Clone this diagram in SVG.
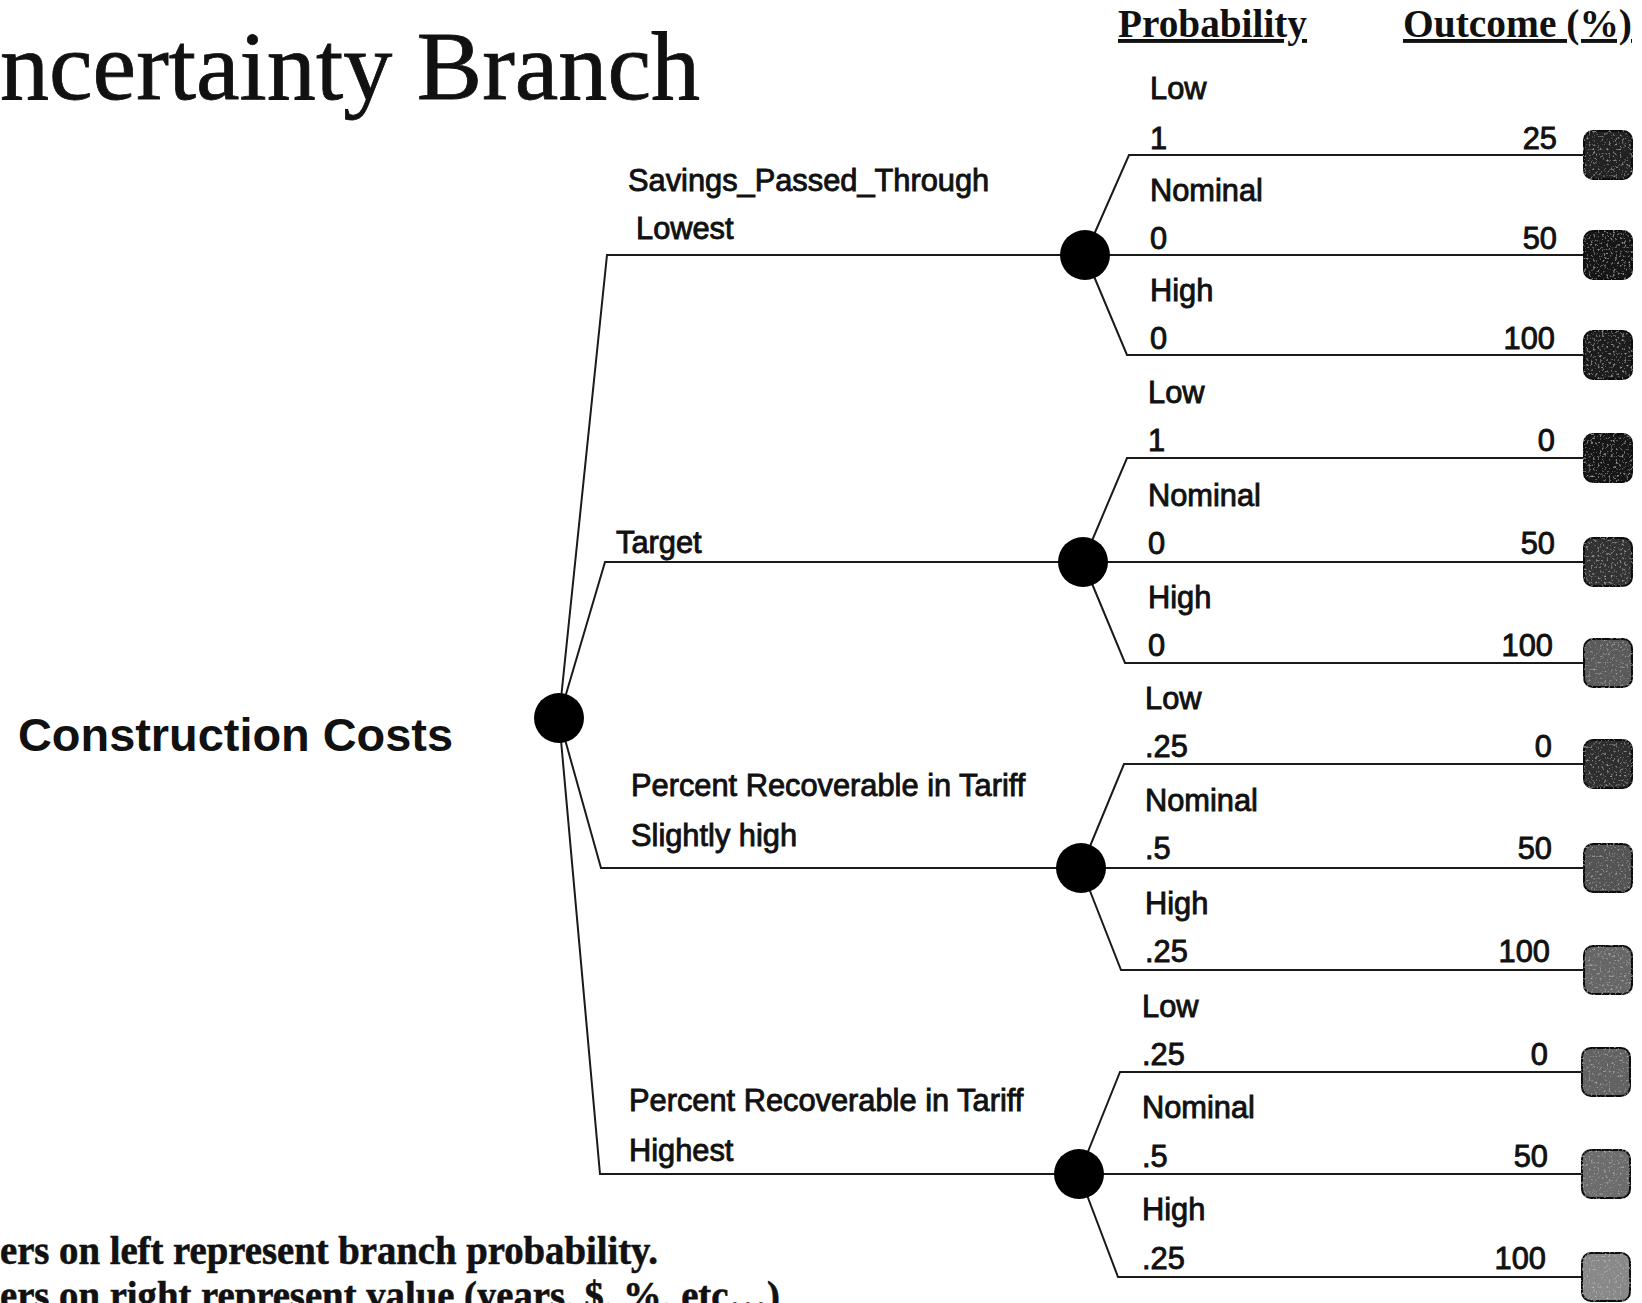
<svg xmlns="http://www.w3.org/2000/svg" width="1642" height="1303" viewBox="0 0 1642 1303">
<defs>
<filter id="grain" x="-10%" y="-10%" width="120%" height="120%">
<feTurbulence type="fractalNoise" baseFrequency="0.45" numOctaves="2" seed="7" result="n"/>
<feColorMatrix in="n" type="matrix" values="0 0 0 0 1  0 0 0 0 1  0 0 0 0 1  0 0 0 1.2 -0.7" result="spk"/>
<feComposite in="spk" in2="SourceGraphic" operator="in" result="spk2"/>
<feMerge><feMergeNode in="SourceGraphic"/><feMergeNode in="spk2"/></feMerge>
</filter>
</defs>
<style>
.lbl{font-family:"Liberation Sans",Arial,sans-serif;font-size:30.8px;fill:#111;stroke:#111;stroke-width:0.9}
.val{font-family:"Liberation Sans",Arial,sans-serif;font-size:30.8px;fill:#111;stroke:#111;stroke-width:0.9;text-anchor:end}
.hdr{font-family:"Liberation Serif","Times New Roman",serif;font-size:39px;font-weight:bold;fill:#111;text-decoration:underline}
.note{font-family:"Liberation Serif","Times New Roman",serif;font-size:40px;font-weight:bold;fill:#111;stroke:#111;stroke-width:0.6}
.ln{fill:none;stroke:#1a1a1a;stroke-width:2}
.dot{fill:#000}
.term{stroke:#111;stroke-width:2;filter:url(#grain)}
</style>
<rect width="1642" height="1303" fill="#fff"/>
<text x="0" y="99" font-family="'Liberation Serif','Times New Roman',serif" font-size="98" fill="#111" stroke="#111" stroke-width="0.8" textLength="700" lengthAdjust="spacingAndGlyphs">ncertainty Branch</text>
<text class="hdr" x="1118" y="37" textLength="189" lengthAdjust="spacingAndGlyphs">Probability</text>
<text class="hdr" x="1403" y="37" textLength="229" lengthAdjust="spacingAndGlyphs">Outcome (%)</text>
<text x="18" y="751" font-family="'Liberation Sans',Arial,sans-serif" font-size="47" font-weight="bold" fill="#111" textLength="435" lengthAdjust="spacingAndGlyphs">Construction Costs</text>
<text class="note" x="0" y="1264" textLength="658" lengthAdjust="spacingAndGlyphs">ers on left represent branch probability.</text>
<text class="note" x="0" y="1309" textLength="780" lengthAdjust="spacingAndGlyphs">ers on right represent value (years, $, %, etc…)</text>

<g id="connectors">
<path class="ln" d="M559,718 L607,255 L1085,255"/>
<path class="ln" d="M559,718 L605,562 L1083,562"/>
<path class="ln" d="M559,718 L601,868 L1081,868"/>
<path class="ln" d="M559,718 L600,1174 L1079,1174"/>
<path class="ln" d="M1085,255 L1129,155 L1585,155"/>
<path class="ln" d="M1085,255 L1585,255"/>
<path class="ln" d="M1085,255 L1127,355 L1585,355"/>
<path class="ln" d="M1083,562 L1127,458 L1585,458"/>
<path class="ln" d="M1083,562 L1585,562"/>
<path class="ln" d="M1083,562 L1125,663 L1585,663"/>
<path class="ln" d="M1081,868 L1124,764 L1585,764"/>
<path class="ln" d="M1081,868 L1585,868"/>
<path class="ln" d="M1081,868 L1121,970 L1585,970"/>
<path class="ln" d="M1079,1174 L1120,1072 L1585,1072"/>
<path class="ln" d="M1079,1174 L1585,1174"/>
<path class="ln" d="M1079,1174 L1118,1277 L1585,1277"/>
</g>

<g id="root">
<circle class="dot" cx="559" cy="718" r="25"/>
</g>

<g id="chance1">
<circle class="dot" cx="1085" cy="255" r="25"/>
<text class="lbl" x="628" y="191">Savings_Passed_Through</text>
<text class="lbl" x="636" y="239">Lowest</text>
</g>
<g id="chance2">
<circle class="dot" cx="1083" cy="562" r="25"/>
<text class="lbl" x="616" y="553">Target</text>
</g>
<g id="chance3">
<circle class="dot" cx="1081" cy="868" r="25"/>
<text class="lbl" x="631" y="796">Percent Recoverable in Tariff</text>
<text class="lbl" x="631" y="846">Slightly high</text>
</g>
<g id="chance4">
<circle class="dot" cx="1079" cy="1174" r="25"/>
<text class="lbl" x="629" y="1111">Percent Recoverable in Tariff</text>
<text class="lbl" x="629" y="1161">Highest</text>
</g>

<g id="g1-low"><text class="lbl" x="1150" y="99">Low</text><text class="lbl" x="1150" y="149">1</text><text class="val" x="1557" y="149">25</text><rect class="term" x="1584" y="131" width="48" height="48" rx="9" fill="#222"/></g>
<g id="g1-nom"><text class="lbl" x="1150" y="201">Nominal</text><text class="lbl" x="1150" y="249">0</text><text class="val" x="1557" y="249">50</text><rect class="term" x="1584" y="231" width="48" height="48" rx="9" fill="#161616"/></g>
<g id="g1-high"><text class="lbl" x="1150" y="301">High</text><text class="lbl" x="1150" y="349">0</text><text class="val" x="1555" y="349">100</text><rect class="term" x="1584" y="331" width="48" height="48" rx="9" fill="#1c1c1c"/></g>

<g id="g2-low"><text class="lbl" x="1148" y="403">Low</text><text class="lbl" x="1148" y="451">1</text><text class="val" x="1555" y="451">0</text><rect class="term" x="1584" y="434" width="48" height="48" rx="9" fill="#181818"/></g>
<g id="g2-nom"><text class="lbl" x="1148" y="506">Nominal</text><text class="lbl" x="1148" y="554">0</text><text class="val" x="1555" y="554">50</text><rect class="term" x="1584" y="538" width="48" height="48" rx="9" fill="#333"/></g>
<g id="g2-high"><text class="lbl" x="1148" y="608">High</text><text class="lbl" x="1148" y="656">0</text><text class="val" x="1553" y="656">100</text><rect class="term" x="1584" y="639" width="48" height="48" rx="9" fill="#5a5a5a"/></g>

<g id="g3-low"><text class="lbl" x="1145" y="709">Low</text><text class="lbl" x="1145" y="757">.25</text><text class="val" x="1552" y="757">0</text><rect class="term" x="1584" y="740" width="48" height="48" rx="9" fill="#2e2e2e"/></g>
<g id="g3-nom"><text class="lbl" x="1145" y="811">Nominal</text><text class="lbl" x="1145" y="859">.5</text><text class="val" x="1552" y="859">50</text><rect class="term" x="1584" y="844" width="48" height="48" rx="9" fill="#525252"/></g>
<g id="g3-high"><text class="lbl" x="1145" y="914">High</text><text class="lbl" x="1145" y="962">.25</text><text class="val" x="1550" y="962">100</text><rect class="term" x="1584" y="946" width="48" height="48" rx="9" fill="#666"/></g>

<g id="g4-low"><text class="lbl" x="1142" y="1017">Low</text><text class="lbl" x="1142" y="1065">.25</text><text class="val" x="1548" y="1065">0</text><rect class="term" x="1582" y="1048" width="48" height="48" rx="9" fill="#626262"/></g>
<g id="g4-nom"><text class="lbl" x="1142" y="1118">Nominal</text><text class="lbl" x="1142" y="1167">.5</text><text class="val" x="1548" y="1167">50</text><rect class="term" x="1582" y="1150" width="48" height="48" rx="9" fill="#6c6c6c"/></g>
<g id="g4-high"><text class="lbl" x="1142" y="1220">High</text><text class="lbl" x="1142" y="1269">.25</text><text class="val" x="1546" y="1269">100</text><rect class="term" x="1582" y="1253" width="48" height="48" rx="9" fill="#888"/></g>
</svg>
